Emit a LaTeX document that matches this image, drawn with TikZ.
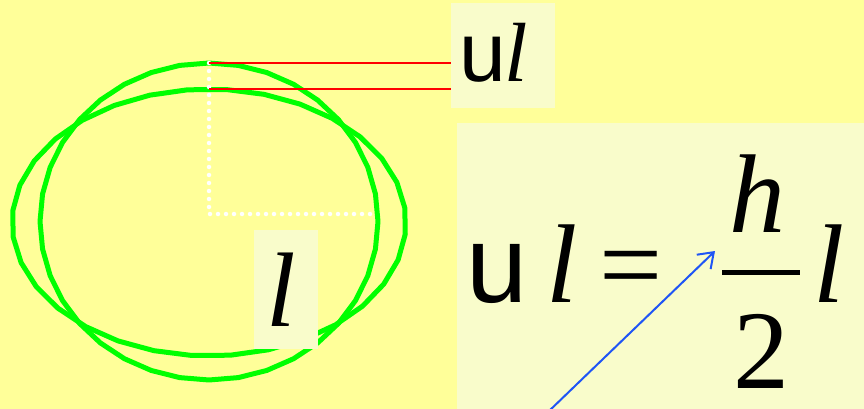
\documentclass[tikz,border=0pt]{standalone}
\usepackage{fontspec}
\setmainfont{Liberation Serif}
\newfontfamily\sansu{Liberation Sans}
\usetikzlibrary{arrows.meta}
\definecolor{bgyellow}{HTML}{FFFF99}
\definecolor{boxyellow}{HTML}{F9FCCB}
\definecolor{ringgreen}{HTML}{00FF00}
\definecolor{arrowblue}{HTML}{1F55F5}

\tikzset{
  ring/.style={ringgreen, line width=5pt, line join=round},
  labelbox/.style={fill=boxyellow, draw=none, inner sep=0pt},
  txt/.style={anchor=base west, inner sep=0pt, outer sep=0pt},
  guide/.style={white, line width=4.5pt, line cap=round, dash pattern=on 0pt off 8pt},
}

\begin{document}
\begin{tikzpicture}[x=1pt, y=-1pt]
\useasboundingbox (0,0) rectangle (864,409);
\fill[bgyellow] (0,0) rectangle (864,409);

% the two rings
\draw[ring] plot[domain=0:360, samples=37] ({209+169*cos(\x)},{221.5+158.5*sin(\x)}) -- cycle;
\draw[ring] plot[domain=5:365, samples=33] ({209+197*cos(\x)},{222.5+133.5*sin(\x)}) -- cycle;

\coordinate (ctop) at (209,63);
\coordinate (etop) at (209,89);
\coordinate (mid) at (209,214);
\coordinate (rim) at (372,214);

% dotted radii
\draw[guide] (ctop) -- (mid) -- (rim);

% label boxes
\node[labelbox, minimum width=104pt, minimum height=105pt] (topbox) at (503,55.5) {};
\node[labelbox, minimum width=64pt, minimum height=119pt] (lbox) at (286,289.5) {};
\fill[boxyellow] (457,123) rectangle (870,415);

\draw[red, line width=1.8pt] (ctop) -- (ctop -| topbox.west);
\draw[red, line width=1.8pt] (etop) -- (etop -| topbox.west);

\node[txt, font=\fontsize{84}{84}\selectfont] (tu) at (459,82) {\sansu u};
\node[txt, font=\fontsize{84}{84}\selectfont] (tl) at (504,82) {\itshape l};
\node[txt, font=\fontsize{106}{106}\selectfont] (rl) at (266,326) {\itshape l};

% equation
\node[txt, font=\fontsize{110}{110}\selectfont] (eu) at (466,302) {\sansu u};
\node[txt, font=\fontsize{112}{112}\selectfont] (el) at (546,302) {\itshape l};
\node[txt, font=\fontsize{112}{112}\selectfont] (eq) at (599,302) {=};
\node[txt, font=\fontsize{112}{112}\selectfont] (eh) at (729,232) {\itshape h};
\node[txt, font=\fontsize{112}{112}\selectfont] (two) at (733,388) {2};
\node[txt, font=\fontsize{112}{112}\selectfont] (er) at (813,302) {\itshape l};
\draw[line width=5pt] (722,272) -- (800,272);

\coordinate (tail) at (548,412);
\coordinate (tip) at (715,251);
\draw[arrowblue, line width=2pt, -{Straight Barb[length=14pt, width=20pt]}] (tail) -- (tip);
\end{tikzpicture}
\end{document}
